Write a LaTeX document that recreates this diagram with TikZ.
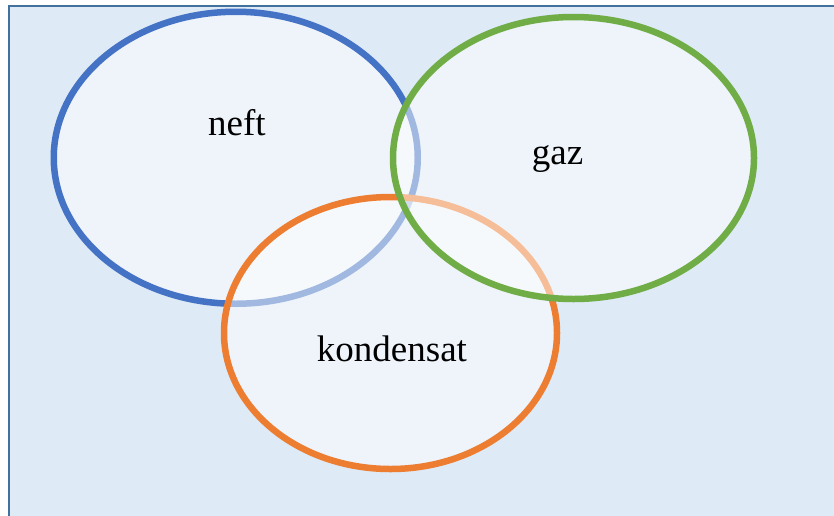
\documentclass[tikz,border=0pt]{standalone}
\usepackage{fontspec}
\setmainfont{Liberation Serif}
\definecolor{bgblue}{HTML}{DEEAF6}
\definecolor{frameblue}{HTML}{41719C}
\definecolor{neftblue}{HTML}{4472C4}
\definecolor{kondorange}{HTML}{ED7D31}
\definecolor{gazgreen}{HTML}{70AD47}
\begin{document}
\begin{tikzpicture}[x=1pt,y=-1pt,
	oval/.style={line width=6.5pt, fill=white, fill opacity=0.5},
	word/.style={anchor=base, font=\fontsize{37}{42}\selectfont}]
	\clip (0,0) rectangle (834,515);
	\draw[line width=2.5pt, draw=frameblue, fill=bgblue] (9,6) rectangle (850,530);
	
	\draw[oval, draw=neftblue] (235.75,157.75) ellipse [x radius=182pt, y radius=146pt];
	\draw[oval, draw=kondorange] (390.5,333) ellipse [x radius=166.5pt, y radius=136pt];
	\draw[oval, draw=gazgreen] (573.5,158) ellipse [x radius=180.5pt, y radius=141pt];
	
	\node[word] (neft) at (237,135) {neft};
	\node[word] (gaz) at (557.5,164) {gaz};
	\node[word] (kondensat) at (392,361) {kondensat};
\end{tikzpicture}
\end{document}
